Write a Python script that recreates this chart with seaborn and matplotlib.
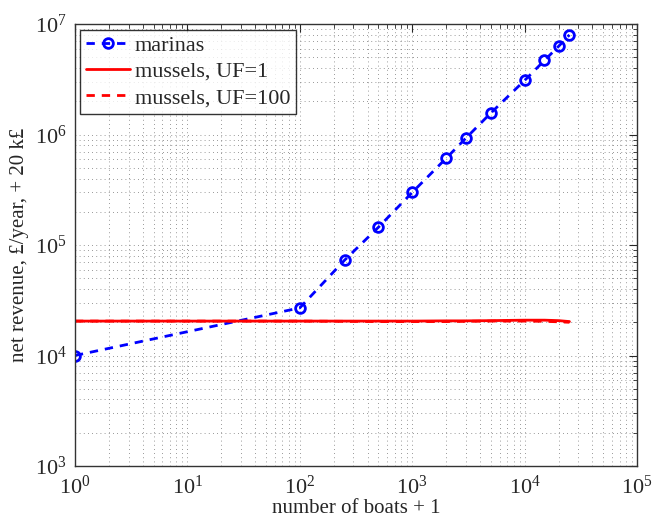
import pandas as pd
import numpy as np
import seaborn as sns
import matplotlib
matplotlib.use("Agg")
import matplotlib.pyplot as plt

boats_plus_one = [1, 100, 250, 500, 1000, 2000, 3000, 5000, 10000, 15000, 20000, 25000]
marinas = [1.0e4, 2.7e4, 7.3e4, 1.45e5, 3.0e5, 6.1e5, 9.3e5, 1.57e6, 3.1e6, 4.7e6, 6.3e6, 8.0e6]
mussels_uf1 = [20500, 20500, 20500, 20500, 20500, 20600, 20600, 20700, 20900, 20900, 20700, 20300]
mussels_uf100 = [20500, 20500, 20400, 20300, 20300, 20300, 20400, 20500, 20500, 20400, 20200, 20000]

df = pd.DataFrame({"x": boats_plus_one, "marinas": marinas,
                   "uf1": mussels_uf1, "uf100": mussels_uf100})

sns.set_style("white")
plt.rcParams["font.family"] = ["Liberation Serif", "DejaVu Serif"]
plt.rcParams["mathtext.fontset"] = "stix"

fig = plt.figure(figsize=(6.63, 5.21), dpi=100)
ax = fig.add_axes([0.113, 0.1056, 0.848, 0.848])

sns.lineplot(data=df, x="x", y="marinas", ax=ax, color="#0000ff", lw=2,
             linestyle=(0, (3, 2.5)), marker="o", markersize=7, markerfacecolor="none",
             markeredgecolor="#0000ff", markeredgewidth=2, label="marinas")
sns.lineplot(data=df, x="x", y="uf1", ax=ax, color="#ff0000", lw=2,
             label="mussels, UF=1")
sns.lineplot(data=df, x="x", y="uf100", ax=ax, color="#ff0000", lw=2,
             linestyle=(0, (3, 2.5)), label="mussels, UF=100")

ax.set_xscale("log")
ax.set_yscale("log")
ax.set_xlim(1, 1e5)
ax.set_ylim(1e3, 1e7)
ax.grid(True, which="both", linestyle=(0, (1, 4)), color="#777777", lw=0.6)
ax.tick_params(which="both", direction="in", top=True, right=True, labelsize=16)
ax.tick_params(axis="x", pad=7)
ax.tick_params(axis="y", pad=6)
ax.tick_params(which="major", length=6)
ax.tick_params(which="minor", length=3)
for s in ax.spines.values():
    s.set_color("#333333")
    s.set_linewidth(1)
ax.set_xlabel("number of boats + 1", fontsize=15, labelpad=0)
ax.set_ylabel("net revenue, £/year, + 20 k£", fontsize=15, labelpad=4)

leg = ax.legend(loc="upper left", fontsize=16, frameon=True, fancybox=False,
                edgecolor="black", handlelength=2.0, borderpad=0.25,
                labelspacing=0.25, handletextpad=0.2, borderaxespad=0.25)
leg.get_frame().set_linewidth(1)

fig.savefig("out.png", dpi=100)
